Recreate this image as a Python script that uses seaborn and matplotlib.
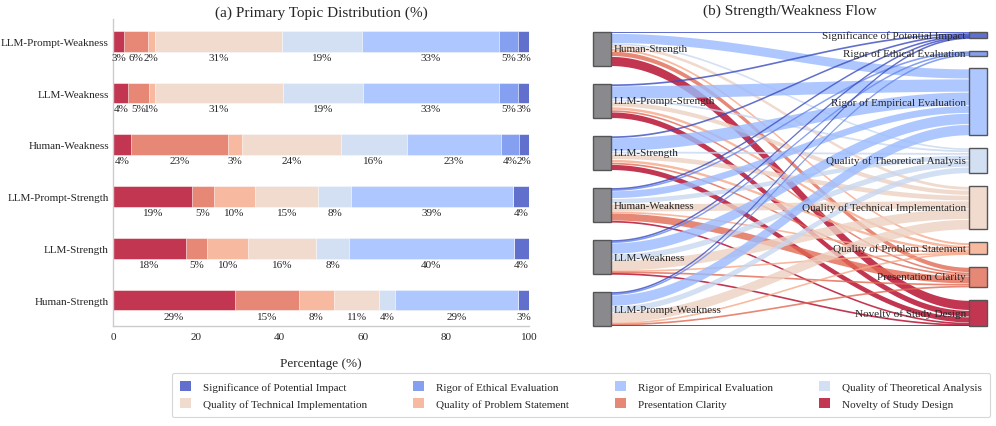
import numpy as np
import pandas as pd
import seaborn as sns
import matplotlib.pyplot as plt
from matplotlib.patches import Patch, Rectangle

sns.set_theme(style='whitegrid', context='paper')
plt.rcParams['font.family'] = 'serif'
plt.rcParams['font.serif'] = ['Liberation Serif', 'DejaVu Serif']

topics = ['Significance of Potential Impact', 'Rigor of Ethical Evaluation',
          'Rigor of Empirical Evaluation', 'Quality of Theoretical Analysis',
          'Quality of Technical Implementation', 'Quality of Problem Statement',
          'Presentation Clarity', 'Novelty of Study Design']

# percentage of each topic per group (same order as topics)
human_strength = [2.7, 0, 29.4, 3.9, 10.9, 8.4, 15.3, 29.4]
llm_prompt_strength = [3.9, 0, 38.9, 7.9, 15.1, 10.0, 5.1, 19.1]
llm_strength = [3.7, 0, 39.6, 7.8, 16.4, 9.8, 5.1, 17.6]
human_weakness = [2.4, 4.3, 22.7, 15.9, 23.6, 3.4, 23.3, 4.4]
llm_weakness = [2.6, 4.6, 32.8, 19.1, 30.9, 1.3, 5.0, 3.7]
llm_prompt_weakness = [2.6, 4.7, 32.9, 19.1, 30.7, 1.7, 5.7, 2.6]

groups = {
    'Human-Strength': human_strength,
    'LLM-Prompt-Strength': llm_prompt_strength,
    'LLM-Strength': llm_strength,
    'Human-Weakness': human_weakness,
    'LLM-Weakness': llm_weakness,
    'LLM-Prompt-Weakness': llm_prompt_weakness,
}
bar_order = ['LLM-Prompt-Weakness', 'LLM-Weakness', 'Human-Weakness',
             'LLM-Prompt-Strength', 'LLM-Strength', 'Human-Strength']
flow_order = list(groups.keys())

cmap = sns.color_palette('coolwarm', as_cmap=True)
raw_colors = [cmap(t) for t in np.linspace(0, 1, len(topics))]
colors = [tuple(0.8 * np.array(c[:3]) + 0.2) for c in raw_colors]

df = pd.DataFrame(groups, index=topics).T
# segments drawn left to right from Novelty to Significance
seg_order = topics[::-1]
cum = df[seg_order].cumsum(axis=1)

fig = plt.figure(figsize=(9.96, 4.27), dpi=100)
ax1 = fig.add_axes([113 / 996, 1 - 327 / 427, 416 / 996, 307 / 427])
ax2 = fig.add_axes([593 / 996, 1 - 327 / 427, 394 / 996, 294 / 427])

# stacked bars: longest cumulative first, shorter ones on top
for topic in seg_order[::-1]:
    part = cum[topic].reset_index()
    part.columns = ['group', 'value']
    sns.barplot(data=part, x='value', y='group', order=bar_order, orient='h',
                color=colors[topics.index(topic)], saturation=1, width=0.4,
                edgecolor='white', linewidth=0.4, ax=ax1)

for i, g in enumerate(bar_order):
    left = 0
    for topic in seg_order:
        v = df.loc[g, topic]
        if v > 0:
            ax1.text(left + v / 2, i + 0.22, f'{v:.0f}%', ha='center', va='top', fontsize=8)
        left += v

ax1.set_xlim(0, 100)
ax1.set_ylim(5.5, -0.43)
ax1.grid(False)
sns.despine(ax=ax1)
ax1.set_xlabel('Percentage (%)', fontsize=9.5, labelpad=12)
ax1.set_ylabel('')
ax1.tick_params(labelsize=8, length=0)
ax1.tick_params(axis='y', pad=3)
ax1.tick_params(axis='x', pad=4)
ax1.set_title('(a) Primary Topic Distribution (%)', fontsize=11, pad=2)

# sankey
gap_left = 53
left_tot = [sum(groups[g]) for g in flow_order]
right_tot = [sum(groups[g][j] for g in flow_order) for j in range(len(topics))]
S = sum(left_tot) + gap_left * (len(flow_order) - 1)
gap_right = (S - sum(right_tot)) / (len(topics) - 1)

left_top = []
y = S
for t in left_tot:
    left_top.append(y)
    y -= t + gap_left
right_top = []
y = S
for t in right_tot:
    right_top.append(y)
    y -= t + gap_right

nw = 18 / 394
x0, x1 = nw, 1 - nw
xs = np.linspace(x0, x1, 150)
s = (1 - np.cos(np.pi * (xs - x0) / (x1 - x0))) / 2

src_off = [0.0] * len(flow_order)
tgt_off = [0.0] * len(topics)
for i, g in enumerate(flow_order):
    for j in range(len(topics)):
        v = groups[g][j]
        if v <= 0:
            continue
        ys = left_top[i] - src_off[i]
        yt = right_top[j] - tgt_off[j]
        mid = ys + (yt - ys) * s - v / 2
        half = max(v - 2.5, 5.0) / 2
        ax2.fill_between(xs, mid - half, mid + half, color=raw_colors[j], alpha=0.8, lw=0)
        src_off[i] += v
        tgt_off[j] += v

for i, g in enumerate(flow_order):
    ax2.add_patch(Rectangle((0, left_top[i] - left_tot[i]), nw, left_tot[i],
                            facecolor='#8a8a8e', edgecolor='#555555', lw=1, clip_on=False))
    ax2.text(nw + 0.008, left_top[i] - left_tot[i] / 2, g, ha='left', va='center', fontsize=8)
for j, t in enumerate(topics):
    ax2.add_patch(Rectangle((1 - nw, right_top[j] - right_tot[j]), nw, right_tot[j],
                            facecolor=colors[j], edgecolor='#555555', lw=1, clip_on=False))
    ax2.text(1 - nw - 0.008, right_top[j] - right_tot[j] / 2, t, ha='right', va='center', fontsize=8)

ax2.set_xlim(0, 1)
ax2.set_ylim(0, S)
ax2.axis('off')
ax2.set_title('(b) Strength/Weakness Flow', fontsize=11, pad=13)

# legend, row-major order with 4 columns
handles = [Patch(facecolor=colors[j], edgecolor='none') for j in range(len(topics))]
idx = [0, 4, 1, 5, 2, 6, 3, 7]
fig.legend([handles[k] for k in idx], [topics[k] for k in idx], loc='lower left',
           bbox_to_anchor=(172 / 996, 1 - 418 / 427, 818 / 996, 0.05), mode='expand',
           ncol=4, fontsize=8, handlelength=1, handleheight=1, borderpad=0.7,
           labelspacing=0.6, handletextpad=1.1, borderaxespad=0, frameon=True)

fig.savefig('out.png', dpi=100)
